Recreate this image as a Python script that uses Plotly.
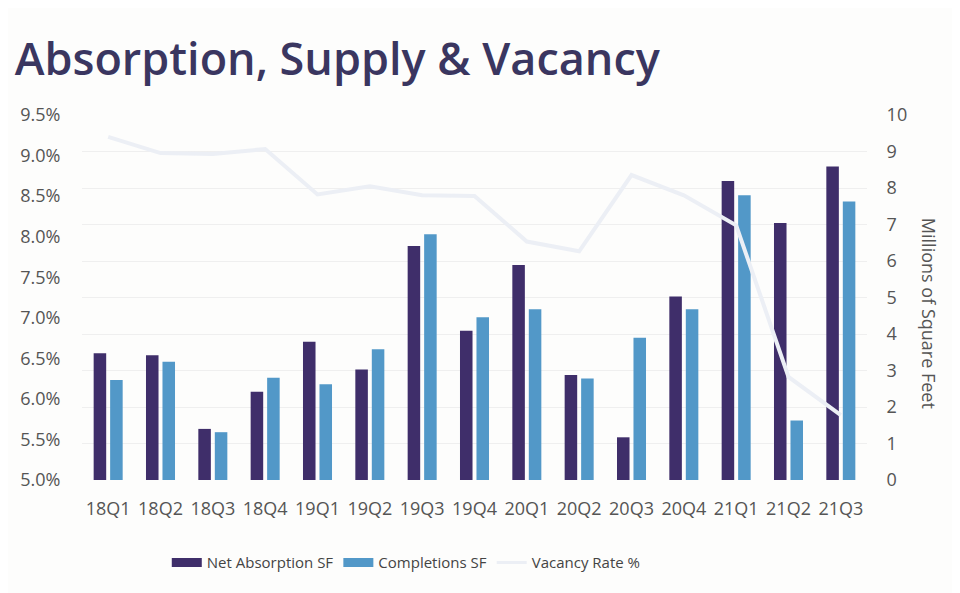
import plotly.graph_objects as go

# quarters and series
quarters = ["18Q1", "18Q2", "18Q3", "18Q4", "19Q1", "19Q2", "19Q3", "19Q4",
            "20Q1", "20Q2", "20Q3", "20Q4", "21Q1", "21Q2", "21Q3"]
net_absorption = [3.47, 3.42, 1.40, 2.42, 3.79, 3.03, 6.41, 4.09,
                  5.89, 2.88, 1.17, 5.03, 8.19, 7.04, 8.59]
completions = [2.74, 3.24, 1.31, 2.80, 2.62, 3.58, 6.73, 4.46,
               4.68, 2.78, 3.90, 4.68, 7.80, 1.63, 7.63]
vacancy_rate = [9.23, 9.03, 9.02, 9.08, 8.52, 8.62, 8.51, 8.50,
                7.94, 7.82, 8.76, 8.51, 8.14, 6.27, 5.80]

pct_ticks = [5.0, 5.5, 6.0, 6.5, 7.0, 7.5, 8.0, 8.5, 9.0, 9.5]
pct_labels = [f"{v:.1f}%" for v in pct_ticks]
sf_ticks = list(range(0, 11))

bg = "#fdfdfc"
dark = "#3f2e6a"
light = "#5298c8"
line_col = "#eceff5"
tick_font = dict(family="Open Sans", size=18, color="#555555")

fig = go.Figure()
fig.add_trace(go.Bar(x=quarters, y=net_absorption, name="Net Absorption SF",
                     marker=dict(color=dark, line=dict(width=0)), yaxis="y2",
                     showlegend=False))
fig.add_trace(go.Bar(x=quarters, y=completions, name="Completions SF",
                     marker=dict(color=light, line=dict(width=0)), yaxis="y2",
                     showlegend=False))
fig.add_trace(go.Scatter(x=quarters, y=vacancy_rate, name="Vacancy Rate %",
                         mode="lines", line=dict(color=line_col, width=4),
                         yaxis="y3", showlegend=False))

# legend entries with wide rectangular swatches, like the original
for name, col, w in [("Net Absorption SF", dark, 9), ("Completions SF", light, 9),
                     ("Vacancy Rate %", line_col, 3)]:
    fig.add_trace(go.Scatter(x=[None], y=[None], name=name, mode="lines",
                             line=dict(color=col, width=w), yaxis="y2"))

fig.update_layout(
    width=960, height=593, autosize=False,
    paper_bgcolor=bg, plot_bgcolor=bg,
    margin=dict(l=70, r=101, t=107, b=121),
    barmode="group", bargap=0.37, bargroupgap=0.24,
    title=dict(text="Absorption, Supply & Vacancy", x=0.007, xanchor="left",
               y=0.887, yanchor="bottom",
               font=dict(family="Open Sans", size=45, color="#3a3660", weight=600)),
    xaxis=dict(tickfont=tick_font, showgrid=False, zeroline=False,
               ticks="outside", ticklen=12, tickcolor=bg, showline=False),
    yaxis2=dict(range=[0, 10], tickvals=sf_ticks, tickfont=tick_font,
                side="right", showgrid=True, gridcolor="#efefef", gridwidth=1,
                zeroline=False, ticks="outside", ticklen=15, tickcolor=bg,
                anchor="x"),
    yaxis3=dict(range=[5.0, 9.5], tickvals=pct_ticks, ticktext=pct_labels,
                tickfont=tick_font, side="left", overlaying="y2",
                showgrid=False, zeroline=False, ticks="outside", ticklen=17,
                tickcolor=bg, anchor="x"),
    legend=dict(orientation="h", x=0.108, xanchor="left", y=-0.227, yanchor="middle",
                font=dict(family="Open Sans", size=15, color="#444444"),
                traceorder="normal", bgcolor="rgba(0,0,0,0)"),
    showlegend=True,
)

# right axis title reads top to bottom
fig.add_annotation(text="Millions of Square Feet", xref="paper", yref="paper",
                   x=1.096, y=0.457, textangle=90, showarrow=False,
                   font=dict(family="Open Sans", size=18, color="#555555"))

fig.write_html("out.html")
